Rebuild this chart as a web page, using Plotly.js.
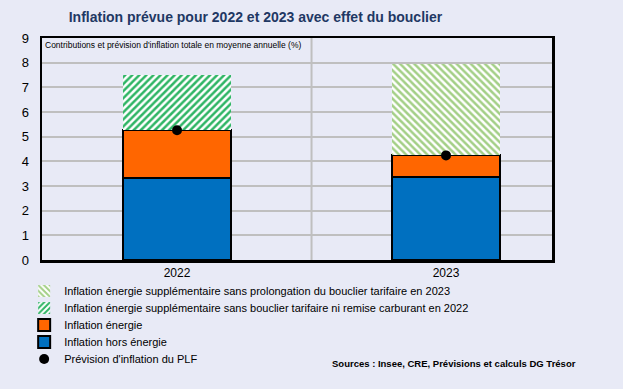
<!DOCTYPE html>
<html>
<head>
<meta charset="utf-8">
<script src="https://cdn.plot.ly/plotly-3.0.1.min.js"></script>
<style>html,body{margin:0;padding:0;background:#E8EAF6;}</style>
</head>
<body>
<div id="chart" style="width:623px;height:389px;"></div>
<script>
const years = ['2022', '2023'];
const horsEnergie = [3.34, 3.38];
const energie = [1.92, 0.86];
const supp2022 = [2.22, null];
const supp2023 = [null, 3.72];
const previsionPLF = [5.26, 4.24];
const yTicks = [0, 1, 2, 3, 4, 5, 6, 7, 8, 9];

const xIdx = years.map((_, i) => i);
const lineBlack = {color: '#000000', width: 2};

const traces = [
  {type: 'bar', name: 'Inflation hors énergie', x: xIdx, y: horsEnergie, width: 0.4,
   marker: {color: '#0070C0', line: lineBlack}, legend: 'legend4', hoverinfo: 'y'},
  {type: 'bar', name: 'Inflation énergie', x: xIdx, y: energie, width: 0.4,
   marker: {color: '#FF6600', line: lineBlack}, legend: 'legend3', hoverinfo: 'y'},
  {type: 'bar', name: 'Inflation énergie supplémentaire sans bouclier tarifaire ni remise carburant en 2022',
   x: xIdx, y: supp2022, width: 0.4,
   marker: {color: '#FFFFFF', line: {width: 0},
     pattern: {shape: '/', fgcolor: '#2FB565', bgcolor: '#FFFFFF', size: 5, solidity: 0.5}},
   legend: 'legend2', hoverinfo: 'y'},
  {type: 'bar', name: 'Inflation énergie supplémentaire sans prolongation du bouclier tarifaire en 2023',
   x: xIdx, y: supp2023, width: 0.4,
   marker: {color: '#FFFFFF', line: {width: 0},
     pattern: {shape: '\\', fgcolor: '#A3CF86', bgcolor: '#FFFFFF', size: 5, solidity: 0.5}},
   legend: 'legend', hoverinfo: 'y'},
  {type: 'scatter', mode: 'markers', name: "Prévision d'inflation du PLF", x: xIdx, y: previsionPLF,
   marker: {color: '#000000', size: 10}, legend: 'legend5', hoverinfo: 'y'}
];

const plotBottom = 260, plotH = 222;
function legendAt(ycenter) {
  return {x: -0.035, xanchor: 'left', y: (plotBottom - ycenter) / plotH, yanchor: 'middle',
    orientation: 'v', bgcolor: 'rgba(0,0,0,0)', itemwidth: 30,
    font: {family: 'Liberation Sans, Arial', size: 11, color: '#000000'}};
}

const layout = {
  width: 623, height: 389,
  paper_bgcolor: '#E8EAF6', plot_bgcolor: '#E8EAF6',
  margin: {l: 42, r: 71, t: 38, b: 129, autoexpand: false},
  barmode: 'stack',
  showlegend: true,
  title: {text: 'Inflation prévue pour 2022 et 2023 avec effet du bouclier',
    x: 0.41, xanchor: 'center', y: 0.955, yanchor: 'middle',
    font: {family: 'Liberation Sans, Arial', size: 14, color: '#1F3864', weight: 'bold'}},
  font: {family: 'Liberation Sans, Arial', size: 11, color: '#000000'},
  xaxis: {range: [-0.502, 1.394], tickvals: xIdx, ticktext: years, showgrid: false, zeroline: false,
    showline: true, mirror: true, linecolor: '#000000', linewidth: 2.5, ticks: '',
    tickfont: {size: 12, family: 'Liberation Sans, Arial'}, fixedrange: true},
  yaxis: {range: [0, 9], tickvals: yTicks, showgrid: true, gridcolor: '#BFBFBF', gridwidth: 2,
    zeroline: false, showline: true, mirror: true, linecolor: '#000000', linewidth: 2.5, ticks: '',
    ticklabelstandoff: 8,
    tickfont: {size: 13, family: 'Liberation Sans, Arial'}, fixedrange: true},
  legend: legendAt(291),
  legend2: legendAt(308),
  legend3: legendAt(325),
  legend4: legendAt(342),
  legend5: legendAt(359),
  shapes: [
    {type: 'line', xref: 'x', yref: 'paper', x0: 0.5, x1: 0.5, y0: 0, y1: 1,
     line: {color: '#BFBFBF', width: 2}, layer: 'below'}
  ],
  annotations: [
    {text: "Contributions et prévision d'inflation totale en moyenne annuelle (%)",
     xref: 'paper', yref: 'paper', x: 0.002, y: 0.998, xanchor: 'left', yanchor: 'top', showarrow: false,
     font: {family: 'Liberation Sans, Arial', size: 8.5, color: '#000000'}},
    {text: '<b>Sources : Insee, CRE, Prévisions et calculs DG Trésor</b>',
     xref: 'paper', yref: 'paper', x: 1.05, y: -0.468, xanchor: 'right', yanchor: 'middle', showarrow: false,
     font: {family: 'Liberation Sans, Arial', size: 9.5, color: '#000000'}}
  ]
};

Plotly.newPlot('chart', traces, layout, {displayModeBar: false, staticPlot: true});
</script>
</body>
</html>
